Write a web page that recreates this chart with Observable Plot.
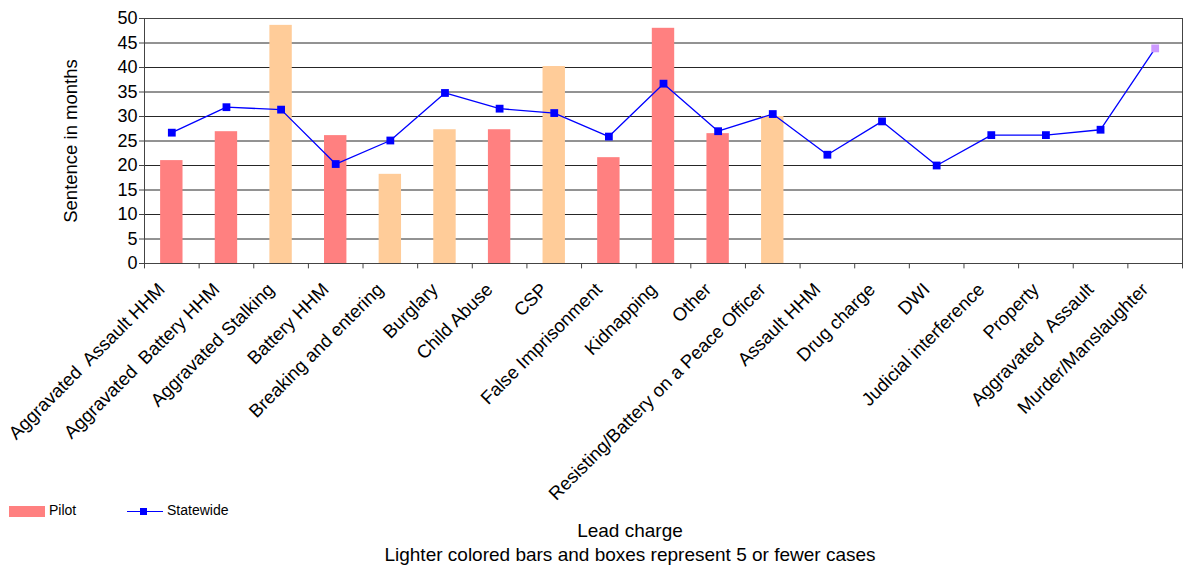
<!DOCTYPE html>
<html>
<head>
<meta charset="utf-8">
<script src="https://cdn.jsdelivr.net/npm/d3@7"></script>
<script src="https://cdn.jsdelivr.net/npm/@observablehq/plot@0.6"></script>
<style>
  html, body { margin: 0; padding: 0; background: #fff; }
  body { width: 1185px; height: 569px; overflow: hidden; font-family: "Liberation Sans", Arial, sans-serif; }
  #wrap { position: relative; width: 1185px; height: 569px; }
  svg text { white-space: pre; }
  .abs { position: absolute; color: #000; white-space: pre; line-height: 1; }
</style>
</head>
<body>
<div id="wrap">
  <div id="chart"></div>
  <div class="abs" style="left:9px; top:506px; width:36px; height:11px; background:#FF8080;"></div>
  <div class="abs" style="left:49px; top:503px; font-size:14px;">Pilot</div>
  <div class="abs" style="left:127px; top:511px; width:36px; height:1.3px; background:#0000FF;"></div>
  <div class="abs" style="left:140px; top:508px; width:7px; height:7px; background:#0000FF;"></div>
  <div class="abs" style="left:167px; top:503px; font-size:14px;">Statewide</div>
  <div class="abs" style="left:0; width:1260px; top:521px; text-align:center; font-size:19px;">Lead charge</div>
  <div class="abs" style="left:0; width:1260px; top:545px; text-align:center; font-size:19px;">Lighter colored bars and boxes represent 5 or fewer cases</div>
</div>
<script>
const categories = [
  "Aggravated  Assault HHM", "Aggravated  Battery HHM", "Aggravated Stalking", "Battery HHM",
  "Breaking and entering", "Burglary", "Child Abuse", "CSP", "False Imprisonment", "Kidnapping",
  "Other", "Resisting/Battery on a Peace Officer", "Assault HHM", "Drug charge", "DWI",
  "Judicial interference", "Property", "Aggravated  Assault", "Murder/Manslaughter"
];
const pilot = [21.0, 26.9, 48.6, 26.1, 18.2, 27.3, 27.3, 40.2, 21.6, 48.0, 26.5, 30.0,
  null, null, null, null, null, null, null];
const pilotFewCases = [false, false, true, false, true, true, false, true, false, false, false, true,
  false, false, false, false, false, false, false];
const statewide = [26.7, 31.9, 31.4, 20.3, 25.1, 34.8, 31.6, 30.7, 25.9, 36.7, 27.0, 30.5,
  22.2, 29.0, 20.0, 26.2, 26.2, 27.3, 43.9];
const statewideFewCases = [false, false, false, false, false, false, false, false, false, false,
  false, false, false, false, false, false, false, false, true];
const yTicks = [0, 5, 10, 15, 20, 25, 30, 35, 40, 45, 50];

const bars = categories.map((c, i) => ({c, v: pilot[i], few: pilotFewCases[i]})).filter(d => d.v != null);
const pts = categories.map((c, i) => ({c, v: statewide[i], few: statewideFewCases[i]}));

const W = 1185, H = 495, mL = 144, mR = 3, mT = 18, mB = H - 263;
const step = (W - mL - mR) / categories.length;

const chart = Plot.plot({
  width: W, height: H,
  marginLeft: mL, marginRight: mR, marginTop: mT, marginBottom: mB,
  style: {fontFamily: "'Liberation Sans', Arial, sans-serif", background: "#fff", overflow: "visible"},
  x: {domain: categories, paddingInner: 0.59, paddingOuter: 0.295, round: false, axis: null},
  y: {domain: [0, 50], axis: null},
  marks: [
    Plot.gridY(yTicks, {stroke: "#000", strokeOpacity: 0.85, strokeWidth: 1}),
    Plot.barY(bars, {x: "c", y: "v", fill: d => d.few ? "#FFCC99" : "#FF8080"}),
    Plot.frame({stroke: "#444", strokeWidth: 1}),
    Plot.axisY(yTicks, {tickSize: 5, tickPadding: 2, fontSize: 18, stroke: "#444", label: null, tickFormat: d => String(d)}),
    Plot.ruleX(categories, {x: d => d, y1: 0, y2: -1.1, dx: -step / 2, stroke: "#444"}),
    Plot.ruleX([categories[categories.length - 1]], {x: d => d, y1: 0, y2: -1.1, dx: step / 2, stroke: "#444"}),
    Plot.line(pts, {x: "c", y: "v", stroke: "#0000FF", strokeWidth: 1.3}),
    Plot.dot(pts, {x: "c", y: "v", symbol: "square", r: 4.4, fill: d => d.few ? "#CC99FF" : "#0000FF", stroke: "none"}),
    Plot.text(categories, {x: d => d, y: 0, text: d => d, rotate: -45, textAnchor: "end", lineAnchor: "middle",
      dy: 23, dx: -10, fontSize: 18.5, fill: "#000"}),
    Plot.text(["Sentence in months"], {frameAnchor: "left", dx: -73, rotate: -90, text: d => d,
      textAnchor: "middle", fontSize: 18.5, fill: "#000", lineAnchor: "middle"})
  ]
});
document.getElementById("chart").appendChild(chart);
</script>
</body>
</html>
